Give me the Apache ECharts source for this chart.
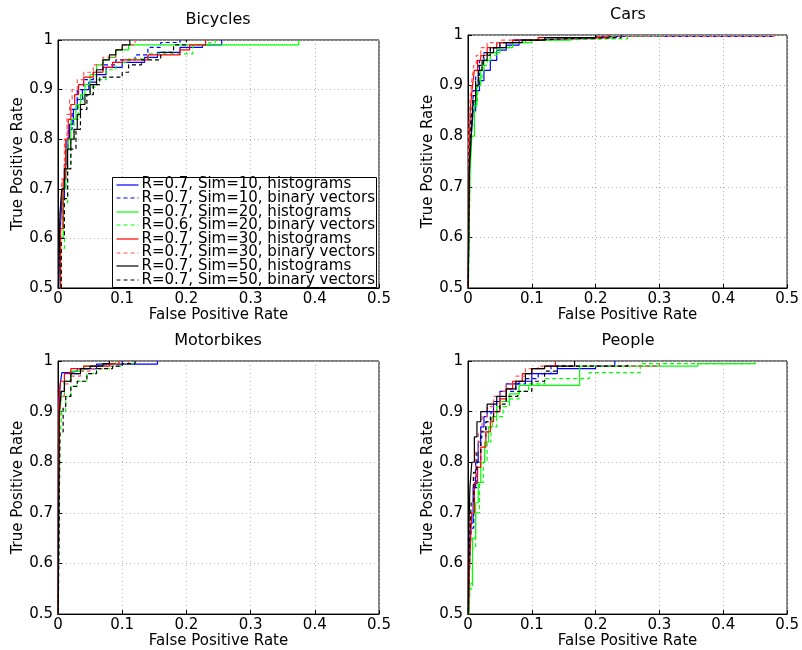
<!DOCTYPE html>
<html>
<head>
<meta charset="utf-8">
<script src="https://cdn.jsdelivr.net/npm/echarts@6/dist/echarts.min.js"></script>
<style>
  html, body { margin: 0; padding: 0; background: #fff; }
  #main { width: 802px; height: 650px; }
</style>
</head>
<body>
<div id="main"></div>
<script>
// panel titles and the eight curves drawn in each panel
var panelTitles = ['Bicycles', 'Cars', 'Motorbikes', 'People']
var seriesNames = [
  'R=0.7, Sim=10, histograms',
  'R=0.7, Sim=10, binary vectors',
  'R=0.7, Sim=20, histograms',
  'R=0.6, Sim=20, binary vectors',
  'R=0.7, Sim=30, histograms',
  'R=0.7, Sim=30, binary vectors',
  'R=0.7, Sim=50, histograms',
  'R=0.7, Sim=50, binary vectors'
]
var xTicks = [0, 0.1, 0.2, 0.3, 0.4, 0.5]
var yTicks = [0.5, 0.6, 0.7, 0.8, 0.9, 1]

// ROC points [false positive rate, true positive rate], one list per series
var bicycles = [
  [[0,0.45],[0.003,0.6],[0.006,0.68],[0.01,0.75],[0.014,0.8],[0.018,0.83],[0.024,0.86],[0.03,0.88],[0.038,0.9],[0.048,0.915],[0.06,0.93],[0.075,0.945],[0.1,0.955],[0.135,0.965],[0.155,0.975],[0.19,0.985],[0.225,0.99],[0.255,1]],
  [[0,0.45],[0.004,0.62],[0.008,0.7],[0.012,0.78],[0.016,0.82],[0.022,0.86],[0.03,0.9],[0.04,0.92],[0.055,0.935],[0.07,0.95],[0.09,0.96],[0.12,0.97],[0.14,0.985],[0.16,0.995],[0.19,1]],
  [[0,0.45],[0.004,0.6],[0.008,0.7],[0.012,0.78],[0.016,0.8],[0.02,0.84],[0.028,0.87],[0.035,0.89],[0.042,0.91],[0.05,0.93],[0.06,0.95],[0.07,0.96],[0.08,0.965],[0.09,0.98],[0.11,0.99],[0.375,1]],
  [[0,0.45],[0.005,0.58],[0.01,0.67],[0.015,0.75],[0.02,0.8],[0.025,0.84],[0.032,0.87],[0.04,0.89],[0.05,0.905],[0.06,0.92],[0.075,0.94],[0.09,0.955],[0.11,0.962],[0.14,0.972],[0.21,0.99],[0.235,0.995],[0.245,1]],
  [[0,0.45],[0.004,0.62],[0.008,0.72],[0.012,0.8],[0.016,0.84],[0.02,0.87],[0.026,0.89],[0.032,0.91],[0.04,0.925],[0.055,0.935],[0.07,0.945],[0.085,0.955],[0.1,0.96],[0.14,0.97],[0.19,0.98],[0.205,0.99],[0.23,1]],
  [[0,0.45],[0.003,0.62],[0.006,0.72],[0.01,0.8],[0.014,0.85],[0.018,0.88],[0.022,0.9],[0.03,0.92],[0.04,0.935],[0.055,0.95],[0.07,0.965],[0.09,0.98],[0.1,0.99],[0.12,1]],
  [[0,0.45],[0.003,0.65],[0.006,0.7],[0.01,0.74],[0.015,0.78],[0.02,0.8],[0.025,0.82],[0.03,0.85],[0.035,0.87],[0.042,0.89],[0.05,0.91],[0.06,0.94],[0.07,0.96],[0.08,0.97],[0.09,0.98],[0.1,0.99],[0.112,1]],
  [[0,0.45],[0.005,0.6],[0.01,0.68],[0.015,0.74],[0.02,0.78],[0.028,0.82],[0.035,0.86],[0.045,0.89],[0.055,0.91],[0.065,0.925],[0.1,0.935],[0.11,0.95],[0.13,0.96],[0.16,0.975],[0.18,0.99],[0.2,1]]
]
var cars = [
  [[0,0.45],[0.002,0.74],[0.005,0.8],[0.008,0.85],[0.012,0.89],[0.018,0.91],[0.025,0.93],[0.035,0.95],[0.045,0.97],[0.06,0.98],[0.08,0.99],[0.12,0.995],[0.23,1]],
  [[0,0.45],[0.002,0.76],[0.004,0.84],[0.008,0.89],[0.012,0.92],[0.018,0.95],[0.025,0.965],[0.035,0.975],[0.05,0.985],[0.07,0.99],[0.1,0.993],[0.2,0.997],[0.48,1]],
  [[0,0.45],[0.003,0.72],[0.006,0.8],[0.01,0.86],[0.014,0.9],[0.02,0.93],[0.025,0.95],[0.035,0.965],[0.05,0.975],[0.07,0.985],[0.1,0.99],[0.16,0.995],[0.23,1]],
  [[0,0.45],[0.003,0.74],[0.006,0.82],[0.01,0.87],[0.015,0.91],[0.022,0.94],[0.03,0.96],[0.045,0.975],[0.065,0.985],[0.09,0.99],[0.13,0.993],[0.25,0.997],[0.3,1]],
  [[0,0.45],[0.002,0.8],[0.004,0.86],[0.007,0.9],[0.01,0.93],[0.015,0.95],[0.02,0.96],[0.03,0.975],[0.045,0.985],[0.07,0.99],[0.11,0.995],[0.22,1]],
  [[0,0.45],[0.001,0.8],[0.003,0.87],[0.006,0.91],[0.009,0.94],[0.013,0.96],[0.02,0.975],[0.03,0.985],[0.05,0.99],[0.09,0.993],[0.2,0.997],[0.48,1]],
  [[0,0.45],[0.002,0.73],[0.005,0.8],[0.008,0.87],[0.012,0.9],[0.016,0.93],[0.022,0.95],[0.03,0.965],[0.04,0.975],[0.06,0.985],[0.085,0.99],[0.12,0.995],[0.2,1]],
  [[0,0.45],[0.002,0.75],[0.005,0.83],[0.008,0.88],[0.012,0.91],[0.017,0.94],[0.024,0.96],[0.035,0.975],[0.05,0.985],[0.075,0.99],[0.11,0.993],[0.16,0.995],[0.24,1]]
]
var motorbikes = [
  [[0,0.45],[0.001,0.9],[0.003,0.95],[0.006,0.977],[0.018,0.98],[0.03,0.985],[0.06,0.994],[0.155,1]],
  [[0,0.45],[0.002,0.9],[0.005,0.94],[0.01,0.96],[0.02,0.975],[0.035,0.985],[0.06,0.99],[0.08,0.995],[0.1,1]],
  [[0,0.45],[0.002,0.88],[0.005,0.93],[0.01,0.96],[0.02,0.98],[0.04,0.99],[0.07,0.995],[0.09,1]],
  [[0,0.45],[0.003,0.85],[0.006,0.9],[0.012,0.93],[0.02,0.95],[0.03,0.96],[0.045,0.975],[0.06,0.985],[0.08,0.99],[0.1,0.995],[0.12,1]],
  [[0,0.45],[0.001,0.92],[0.004,0.96],[0.01,0.975],[0.02,0.985],[0.04,0.99],[0.08,0.995],[0.095,1]],
  [[0,0.45],[0.002,0.88],[0.005,0.93],[0.01,0.955],[0.02,0.97],[0.035,0.98],[0.05,0.985],[0.07,0.99],[0.09,0.995],[0.11,1]],
  [[0,0.45],[0.002,0.9],[0.005,0.94],[0.01,0.96],[0.02,0.975],[0.035,0.985],[0.05,0.99],[0.07,0.995],[0.08,1]],
  [[0,0.45],[0.003,0.86],[0.008,0.91],[0.012,0.93],[0.02,0.95],[0.03,0.96],[0.045,0.975],[0.06,0.985],[0.085,0.99],[0.1,0.995],[0.12,1]]
]
var people = [
  [[0,0.45],[0.002,0.6],[0.004,0.68],[0.008,0.75],[0.012,0.8],[0.016,0.84],[0.02,0.87],[0.025,0.89],[0.03,0.9],[0.04,0.92],[0.05,0.94],[0.06,0.955],[0.08,0.96],[0.1,0.975],[0.14,0.985],[0.2,0.99],[0.23,1]],
  [[0,0.45],[0.002,0.58],[0.005,0.67],[0.009,0.75],[0.014,0.8],[0.02,0.85],[0.028,0.88],[0.036,0.9],[0.045,0.92],[0.06,0.94],[0.075,0.955],[0.09,0.965],[0.11,0.975],[0.13,0.99],[0.3,0.995]],
  [[0,0.45],[0.003,0.56],[0.007,0.65],[0.012,0.72],[0.016,0.76],[0.02,0.8],[0.026,0.84],[0.032,0.87],[0.038,0.89],[0.045,0.91],[0.05,0.92],[0.065,0.935],[0.08,0.952],[0.175,0.99],[0.36,0.995],[0.45,0.997]],
  [[0,0.45],[0.003,0.55],[0.007,0.63],[0.012,0.7],[0.018,0.76],[0.024,0.8],[0.03,0.84],[0.036,0.87],[0.045,0.89],[0.055,0.91],[0.065,0.925],[0.08,0.94],[0.095,0.955],[0.12,0.965],[0.19,0.977],[0.27,0.995],[0.45,0.997]],
  [[0,0.45],[0.003,0.62],[0.006,0.7],[0.01,0.76],[0.015,0.79],[0.02,0.83],[0.028,0.86],[0.035,0.88],[0.04,0.9],[0.05,0.925],[0.06,0.945],[0.07,0.96],[0.085,0.975],[0.1,0.985],[0.12,0.99],[0.137,1]],
  [[0,0.45],[0.002,0.62],[0.004,0.7],[0.008,0.77],[0.012,0.82],[0.016,0.86],[0.022,0.89],[0.03,0.91],[0.04,0.93],[0.05,0.94],[0.06,0.955],[0.075,0.97],[0.09,0.985],[0.11,0.99],[0.3,0.995]],
  [[0,0.45],[0.001,0.65],[0.003,0.75],[0.006,0.8],[0.01,0.85],[0.014,0.88],[0.02,0.9],[0.03,0.915],[0.045,0.93],[0.06,0.945],[0.075,0.96],[0.09,0.975],[0.1,0.985],[0.12,0.99],[0.167,1]],
  [[0,0.45],[0.002,0.63],[0.005,0.72],[0.009,0.78],[0.014,0.82],[0.02,0.86],[0.028,0.88],[0.035,0.89],[0.04,0.9],[0.05,0.915],[0.06,0.93],[0.078,0.94],[0.1,0.96],[0.12,0.98],[0.14,0.99],[0.25,0.995]]
]
var panels = [bicycles, cars, motorbikes, people]

var colors = ['#0000ff', '#0000ff', '#00ff00', '#00ff00', '#ff0000', '#ff5555', '#000000', '#000000']
var dashed = [false, true, false, true, false, true, false, true]

var grids = [
  { left: 58, top: 40, width: 321, height: 248 },
  { left: 468, top: 35, width: 321, height: 253 },
  { left: 58, top: 361, width: 321, height: 255 },
  { left: 468, top: 361, width: 321, height: 255 }
]
var titlePos = [[218, 12], [628, 7], [218, 333], [628, 333]]
var yNameGap = [30, 28, 30, 28]
// legend box inside the Bicycles panel
var legendBox = { x: 112.5, y: 177.5, width: 264, height: 110, row: 13.6 }

var font = 'DejaVu Sans'
var myChart = echarts.init(document.getElementById('main'), null, { renderer: 'canvas' })

var xAxes = [], yAxes = [], series = [], titles = []
panels.forEach(function (panel, i) {
  grids[i].show = true
  grids[i].borderColor = '#000'
  grids[i].borderWidth = 1
  grids[i].backgroundColor = '#fff'
  titles.push({
    text: panelTitles[i], left: titlePos[i][0], top: titlePos[i][1], textAlign: 'center', padding: 0,
    textStyle: { fontFamily: font, fontSize: 16, fontWeight: 'normal', color: '#000' }
  })
  xAxes.push({
    gridIndex: i, type: 'value', min: xTicks[0], max: xTicks[xTicks.length - 1], interval: 0.1,
    name: 'False Positive Rate', nameLocation: 'middle', nameGap: 17,
    nameTextStyle: { fontFamily: font, fontSize: 15, color: '#000' },
    axisLine: { lineStyle: { color: '#000', width: 1 } },
    axisTick: { inside: true, length: 4, lineStyle: { color: '#000' } },
    axisLabel: { fontFamily: font, fontSize: 15, color: '#000', margin: 4, formatter: function (v) { return String(+v.toFixed(1)) } },
    splitLine: { show: true, lineStyle: { color: '#b4b4b4', type: [1, 3], width: 1 } }
  })
  yAxes.push({
    gridIndex: i, type: 'value', min: yTicks[0], max: yTicks[yTicks.length - 1], interval: 0.1,
    name: 'True Positive Rate', nameLocation: 'middle', nameGap: yNameGap[i], nameRotate: 90,
    nameTextStyle: { fontFamily: font, fontSize: 15, color: '#000' },
    axisLine: { show: true, lineStyle: { color: '#000', width: 1 } },
    axisTick: { show: true, inside: true, length: 4, lineStyle: { color: '#000' } },
    axisLabel: { fontFamily: font, fontSize: 15, color: '#000', margin: 5, formatter: function (v) { return String(+v.toFixed(1)) } },
    splitLine: { show: true, lineStyle: { color: '#b4b4b4', type: [1, 3], width: 1 } }
  })
  panel.forEach(function (curve, j) {
    series.push({
      type: 'line', name: seriesNames[j], xAxisIndex: i, yAxisIndex: i,
      data: curve, step: 'end', symbol: 'none', showSymbol: false, clip: true,
      color: colors[j],
      lineStyle: { color: colors[j], width: 1.2, type: dashed[j] ? [4, 3] : 'solid' },
      emphasis: { disabled: true }
    })
  })
})

// legend drawn as a boxed list of line samples + labels (MATLAB style)
var legendItems = [{
  type: 'rect', z: 100,
  shape: { x: legendBox.x, y: legendBox.y, width: legendBox.width, height: legendBox.height },
  style: { fill: '#fff', stroke: '#000', lineWidth: 1 }
}]
seriesNames.forEach(function (name, j) {
  var cy = legendBox.y + 7 + j * legendBox.row
  var ly = Math.round(cy)
  legendItems.push({
    type: 'line', z: 101,
    shape: { x1: legendBox.x + 4, y1: ly, x2: legendBox.x + 26, y2: ly },
    style: { stroke: colors[j], lineWidth: 1.2, lineDash: dashed[j] ? [4, 3] : null }
  })
  legendItems.push({
    type: 'text', z: 101, x: legendBox.x + 29, y: cy,
    style: { text: name, fill: '#000', font: '15px "DejaVu Sans"', verticalAlign: 'middle', align: 'left' }
  })
})

myChart.setOption({
  animation: false,
  backgroundColor: '#fff',
  title: titles,
  grid: grids,
  xAxis: xAxes,
  yAxis: yAxes,
  graphic: legendItems,
  series: series
})

window.addEventListener('resize', function () {
  myChart.resize()
})
</script>
</body>
</html>
